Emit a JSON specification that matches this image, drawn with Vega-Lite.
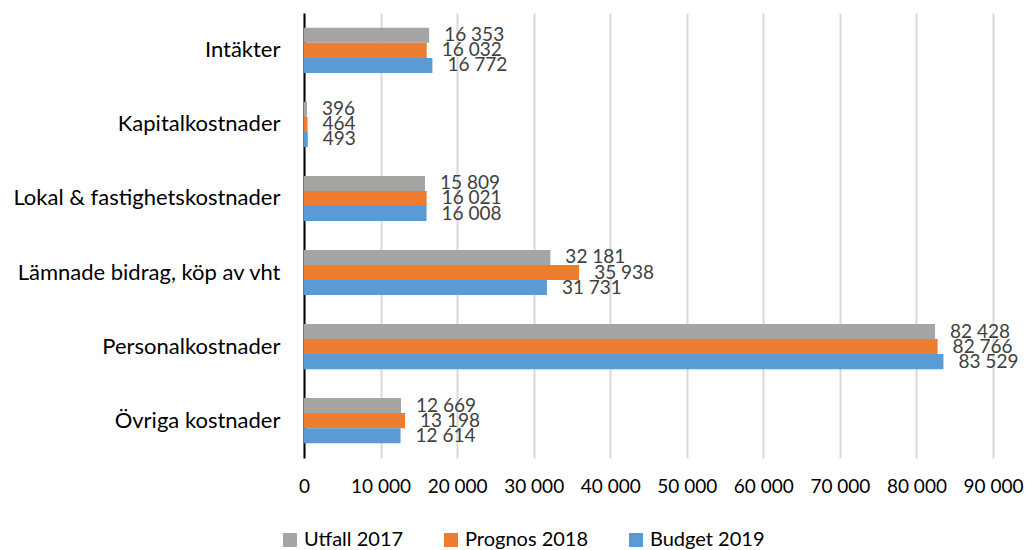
{
  "$schema": "https://vega.github.io/schema/vega-lite/v6.json",
  "width": 689,
  "height": 445,
  "autosize": {"type": "none"},
  "padding": {"left": 304, "top": 13, "right": 37, "bottom": 92},
  "background": "white",
  "config": {
    "locale": {"number": {"decimal": ",", "thousands": " ", "grouping": [3], "currency": ["", " kr"]}},
    "font": "Lato",
    "view": {"stroke": null}
  },
  "data": {
    "values": [
      {"kategori": "Intäkter", "serie": "Utfall 2017", "varde": 16353},
      {"kategori": "Intäkter", "serie": "Prognos 2018", "varde": 16032},
      {"kategori": "Intäkter", "serie": "Budget 2019", "varde": 16772},
      {"kategori": "Kapitalkostnader", "serie": "Utfall 2017", "varde": 396},
      {"kategori": "Kapitalkostnader", "serie": "Prognos 2018", "varde": 464},
      {"kategori": "Kapitalkostnader", "serie": "Budget 2019", "varde": 493},
      {"kategori": "Lokal & fastighetskostnader", "serie": "Utfall 2017", "varde": 15809},
      {"kategori": "Lokal & fastighetskostnader", "serie": "Prognos 2018", "varde": 16021},
      {"kategori": "Lokal & fastighetskostnader", "serie": "Budget 2019", "varde": 16008},
      {"kategori": "Lämnade bidrag, köp av vht", "serie": "Utfall 2017", "varde": 32181},
      {"kategori": "Lämnade bidrag, köp av vht", "serie": "Prognos 2018", "varde": 35938},
      {"kategori": "Lämnade bidrag, köp av vht", "serie": "Budget 2019", "varde": 31731},
      {"kategori": "Personalkostnader", "serie": "Utfall 2017", "varde": 82428},
      {"kategori": "Personalkostnader", "serie": "Prognos 2018", "varde": 82766},
      {"kategori": "Personalkostnader", "serie": "Budget 2019", "varde": 83529},
      {"kategori": "Övriga kostnader", "serie": "Utfall 2017", "varde": 12669},
      {"kategori": "Övriga kostnader", "serie": "Prognos 2018", "varde": 13198},
      {"kategori": "Övriga kostnader", "serie": "Budget 2019", "varde": 12614}
    ]
  },
  "encoding": {
    "y": {
      "field": "kategori",
      "type": "nominal",
      "sort": null,
      "scale": {"paddingInner": 0.39, "paddingOuter": 0.2},
      "axis": {
        "title": null,
        "domain": true,
        "domainColor": "#000000",
        "domainWidth": 2,
        "ticks": false,
        "grid": false,
        "labelFontSize": 22,
        "labelColor": "#000000",
        "labelPadding": 24,
        "labelLimit": 400
      }
    },
    "yOffset": {
      "field": "serie",
      "type": "nominal",
      "sort": ["Utfall 2017", "Prognos 2018", "Budget 2019"],
      "scale": {"paddingInner": 0, "paddingOuter": 0}
    },
    "x": {
      "field": "varde",
      "type": "quantitative",
      "scale": {"domain": [0, 90000], "nice": false},
      "axis": {
        "title": null,
        "values": [0, 10000, 20000, 30000, 40000, 50000, 60000, 70000, 80000, 90000],
        "format": ",d",
        "domain": false,
        "ticks": false,
        "grid": true,
        "gridColor": "#D9D9D9",
        "gridWidth": 2,
        "labelFontSize": 19,
        "labelColor": "#000000",
        "labelPadding": 19,
        "labelFlush": false
      }
    }
  },
  "layer": [
    {
      "mark": {"type": "bar"},
      "encoding": {
        "color": {
          "field": "serie",
          "type": "nominal",
          "sort": ["Utfall 2017", "Prognos 2018", "Budget 2019"],
          "scale": {
            "domain": ["Utfall 2017", "Prognos 2018", "Budget 2019"],
            "range": ["#A5A5A5", "#ED7D31", "#5B9BD5"]
          },
          "legend": {
            "title": null,
            "orient": "none",
            "direction": "horizontal",
            "legendX": -24,
            "legendY": 517,
            "symbolType": "square",
            "symbolSize": 196,
            "symbolStrokeWidth": 0,
            "labelFontSize": 20,
            "labelColor": "#000000",
            "labelOffset": 4,
            "columnPadding": 37
          }
        }
      }
    },
    {
      "mark": {"type": "text", "align": "left", "baseline": "middle", "dx": 15, "fontSize": 19, "color": "#404040"},
      "encoding": {
        "text": {"field": "varde", "type": "quantitative", "format": ",d"}
      }
    }
  ]
}
